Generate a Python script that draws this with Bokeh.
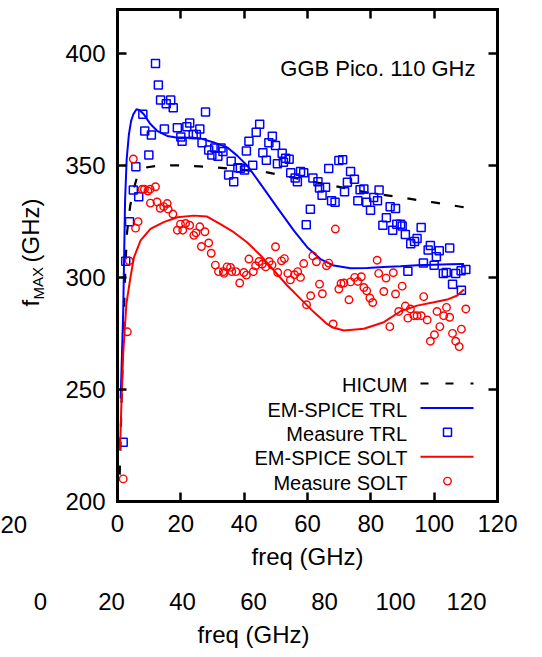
from bokeh.plotting import figure
from bokeh.models import Range1d, LinearAxis, Label, FixedTicker
from bokeh.embed import file_html
from bokeh.resources import INLINE

FONT = "Liberation Sans"
BLUE = "#0000ff"
RED = "#ff0000"

# ---------------- data ----------------
X_TICKS = [0, 20, 40, 60, 80, 100, 120]
Y_TICKS = [200, 250, 300, 350, 400]
X_LABEL = "freq (GHz)"
TITLE = "GGB Pico. 110 GHz"
SERIES_NAMES = ["HICUM", "EM-SPICE TRL", "Measure TRL", "EM-SPICE SOLT", "Measure SOLT"]

hicum_f = [0.7, 1.2, 1.8, 2.5, 3.0, 4.0, 5.0, 6.2, 7.5, 9.4, 12.0, 14.6, 18.0, 22.0, 26.0, 30.4,
           36.7, 42.0, 47.3, 52.0, 57.8, 63.0, 68.3, 73.6, 78.9, 84.0, 89.4, 94.6, 99.9, 105.0, 109.5]
hicum_v = [212, 240, 275, 305, 320, 332, 339, 345, 347.5, 349.3, 349.8, 350.0, 350.2, 350.0, 349.7, 349.3,
           348.5, 347.8, 347.0, 345.7, 344.0, 342.5, 341.0, 339.5, 338.0, 337.0, 335.9, 334.7, 333.6, 332.5, 331.4]

trl_f = [1.0, 1.4, 1.8, 2.1, 2.4, 2.9, 3.6, 4.3, 5.0, 6.0, 7.0, 8.3, 10.4, 12.5, 15.7, 19.9, 23.1, 26.2,
         30.4, 34.6, 37.8, 41.0, 45.2, 50.4, 55.7, 59.9, 64.1, 68.3, 73.6, 78.9, 84.0, 89.4, 94.6, 99.9,
         105.0, 109.4]
trl_v = [246, 265, 285, 310, 335, 353, 364, 370, 373, 375.2, 374.8, 373.0, 368.6, 365.6, 363.3, 362.3,
         362.6, 362.2, 360.4, 358.2, 354.5, 350.0, 341.8, 331.4, 321.0, 313.6, 308.3, 305.4, 304.2, 304.3,
         304.7, 305.1, 305.5, 305.8, 306.0, 306.1]

solt_f = [0.8, 1.2, 1.8, 2.8, 4.1, 5.2, 7.3, 10.4, 14.6, 18.9, 24.1, 28.3, 32.5, 36.7, 40.9, 45.2, 49.4,
          53.6, 57.8, 62.0, 66.0, 68.3, 71.5, 77.8, 84.1, 89.4, 94.6, 99.9, 104.1, 107.3, 109.4]
solt_v = [223, 242.2, 266.0, 288.2, 300.2, 309.1, 316.6, 321.8, 324.8, 327.0, 327.7, 327.3, 323.9, 320.3,
          315.8, 309.9, 303.2, 296.5, 290.5, 284.6, 279.5, 277.6, 276.4, 277.2, 280.1, 285.0, 287.5, 289.0,
          290.2, 292.0, 294.7]

meas_trl_f = [1.8, 2.6, 3.8, 5.0, 5.8, 6.7, 8.0, 8.6, 9.9, 10.7, 12.0, 12.9, 13.6, 14.8, 15.4, 16.8, 17.6,
              18.9, 20.0, 20.4, 21.9, 22.8, 23.9, 24.9, 26.0, 26.7, 27.8, 28.8, 29.8, 30.7, 31.7, 32.7, 33.3,
              35.1, 35.9, 36.7, 38.0, 38.8, 40.1, 40.7, 41.5, 42.7, 43.8, 44.9, 45.9, 47.0, 47.8, 48.9, 49.9,
              50.5, 52.0, 52.4, 53.1, 54.2, 54.7, 56.1, 56.8, 57.8, 58.8, 59.6, 60.9, 61.7, 63.3, 63.8, 64.6,
              65.7, 66.7, 67.6, 68.7, 69.9, 71.1, 71.7, 72.6, 73.6, 74.8, 75.9, 76.6, 77.8, 78.7, 79.9, 80.9,
              82.1, 82.6, 83.8, 84.9, 86.1, 86.9, 87.8, 88.2, 89.4, 89.9, 90.9, 91.7, 92.6, 93.8, 94.6, 95.9,
              96.6, 98.1, 98.8, 100.0, 100.7, 101.6, 102.9, 103.8, 104.9, 105.8, 106.8, 108.5, 108.6, 110.0]
meas_trl_v = [226.5, 307.3, 325.0, 339.1, 349.5, 336.1, 373.0, 365.5, 354.8, 363.7, 395.7, 386.0, 379.3,
              366.4, 377.7, 379.3, 375.9, 366.9, 362.8, 360.9, 367.4, 369.1, 363.9, 363.9, 366.4, 360.3,
              374.0, 357.0, 354.8, 357.9, 354.2, 357.9, 356.3, 345.9, 352.0, 342.8, 349.1, 348.9, 348.1,
              356.6, 360.9, 350.2, 364.9, 368.5, 355.8, 352.4, 360.2, 363.2, 359.0, 350.9, 355.6, 351.5,
              353.3, 352.9, 346.9, 344.5, 342.8, 347.4, 346.9, 323.6, 330.6, 344.5, 342.8, 340.0, 336.8,
              340.4, 348.7, 334.3, 333.7, 352.3, 352.7, 338.4, 342.6, 347.4, 344.0, 334.3, 339.3, 339.6,
              333.7, 330.1, 335.8, 334.3, 339.2, 323.4, 326.8, 331.7, 321.2, 330.9, 323.9, 323.9, 323.1,
              319.3, 302.9, 315.1, 316.1, 317.5, 322.4, 306.5, 312.3, 314.4, 305.5, 309.3, 312.0, 301.9,
              302.3, 313.2, 297.0, 301.9, 303.1, 294.4, 303.6]

meas_solt_f = [1.8, 3.1, 3.7, 5.0, 5.7, 6.5, 7.8, 8.5, 9.6, 10.3, 10.4, 12.0, 12.5, 13.5, 14.6, 15.7, 16.0,
               17.5, 18.9, 19.9, 20.6, 21.5, 22.8, 24.1, 24.8, 26.0, 26.5, 27.6, 28.8, 29.6, 30.9, 31.9,
               33.4, 33.6, 34.6, 35.7, 36.1, 37.4, 38.6, 39.9, 40.7, 41.5, 42.9, 43.6, 44.7, 45.7, 46.8,
               47.9, 48.8, 49.9, 50.6, 51.8, 52.7, 53.8, 54.6, 55.9, 56.9, 57.8, 58.8, 59.7, 61.0, 61.7,
               62.8, 63.8, 64.7, 66.0, 66.7, 68.1, 68.8, 69.9, 70.6, 71.5, 73.1, 73.6, 74.9, 75.9, 77.0,
               77.8, 78.7, 79.7, 80.6, 82.0, 82.5, 84.1, 84.8, 86.0, 87.1, 87.8, 88.8, 89.9, 90.9, 91.7,
               92.5, 93.6, 94.6, 95.9, 96.7, 97.8, 98.8, 100.1, 100.9, 101.8, 103.0, 103.9, 104.9, 105.8,
               106.8, 107.9, 108.6, 110.0]
meas_solt_v = [210.1, 275.8, 307.5, 353.0, 322.1, 325.0, 339.5, 339.5, 338.7, 339.5, 333.3, 340.6, 333.8,
               331.0, 331.7, 333.1, 330.6, 328.4, 321.2, 323.9, 321.2, 324.2, 323.4, 318.9, 320.0, 322.7,
               313.9, 320.5, 315.5, 310.9, 305.6, 302.7, 302.7, 301.9, 304.8, 304.6, 302.7, 302.7, 297.6,
               302.3, 301.1, 308.3, 302.7, 305.3, 307.2, 306.0, 304.8, 307.2, 305.7, 313.8, 302.3, 307.5,
               308.5, 301.9, 299.0, 301.3, 302.7, 300.1, 306.3, 287.9, 291.9, 309.7, 307.1, 297.1, 292.8,
               305.3, 306.5, 279.3, 321.7, 294.9, 297.4, 297.6, 290.1, 298.1, 300.1, 298.3, 300.4, 295.6,
               294.1, 290.9, 288.9, 307.8, 301.9, 293.8, 299.8, 278.1, 302.2, 292.7, 284.9, 296.2, 287.3,
               281.9, 286.0, 283.0, 283.0, 283.0, 291.5, 281.1, 271.6, 274.5, 284.9, 278.1, 283.0, 286.7,
               282.3, 275.1, 271.6, 269.2, 277.0, 286.0]

# ---------------- layout (canvas pixels) ----------------
CW, CH = 540, 655
X0, X1 = 0, 120
Y0, Y1 = 200, 420
BX0, BX1 = 117.0, 497.0      # plot box left/right
BYT, BYB = 8.5, 501.0        # plot box top/bottom
XS = (BX1 - BX0) / (X1 - X0)
YS = (BYB - BYT) / (Y1 - Y0)
SX0, SX1 = 40.0, 466.0       # lower (stray) axis: where 0 and 120 sit
SXS = (SX1 - SX0) / (X1 - X0)


def dx(px):
    return X0 + (px - BX0) / XS


def dy(py):
    return Y0 + (BYB - py) / YS


p = figure(width=CW, height=CH, x_range=Range1d(dx(0), dx(CW)), y_range=Range1d(dy(CH), dy(0)),
           output_backend="svg", toolbar_location=None, x_axis_location=None, y_axis_location=None,
           min_border=0, min_border_left=0, min_border_right=0, min_border_top=0, min_border_bottom=0)
p.extra_x_ranges = {"x2": Range1d(X0 + (0 - SX0) / SXS, X0 + (CW - SX0) / SXS)}
p.grid.visible = False
p.outline_line_color = None
p.background_fill_color = "white"
p.border_fill_color = "white"

common = dict(major_tick_in=9, major_tick_out=0, major_tick_line_width=2.5, major_tick_line_color="black",
              minor_tick_line_color=None, axis_line_width=3, axis_line_color="black",
              axis_line_cap="square", major_label_text_font=FONT, major_label_text_font_size="24px",
              major_label_text_color="black")

bottom = LinearAxis(fixed_location=Y0, bounds=(X0, X1), ticker=FixedTicker(ticks=X_TICKS),
                    major_label_standoff=13, axis_label=X_LABEL, axis_label_standoff=8,
                    axis_label_text_font=FONT, axis_label_text_font_size="24px",
                    axis_label_text_font_style="normal", axis_label_text_color="black", **common)
left = LinearAxis(fixed_location=X0, bounds=(Y0, Y1), ticker=FixedTicker(ticks=Y_TICKS),
                  major_label_standoff=12, **common)
top = LinearAxis(fixed_location=Y1, bounds=(X0, X1), ticker=FixedTicker(ticks=X_TICKS),
                 major_label_overrides={t: "" for t in X_TICKS}, **common)
right = LinearAxis(fixed_location=X1, bounds=(Y0, Y1), ticker=FixedTicker(ticks=Y_TICKS),
                   major_label_overrides={t: "" for t in Y_TICKS}, **common)
p.add_layout(bottom, "below")
p.add_layout(left, "left")
p.add_layout(top, "above")
p.add_layout(right, "right")

# stray second axis below (as in the reference picture)
stray = LinearAxis(x_range_name="x2", fixed_location=dy(579), bounds=(X0, X1),
                   ticker=FixedTicker(ticks=X_TICKS), axis_line_color=None, major_tick_line_color=None,
                   minor_tick_line_color=None, major_tick_in=0, major_tick_out=0,
                   major_label_standoff=13, major_label_text_font=FONT, major_label_text_font_size="24px",
                   major_label_text_color="black", axis_label=X_LABEL, axis_label_standoff=8,
                   axis_label_text_font=FONT, axis_label_text_font_size="24px",
                   axis_label_text_font_style="normal", axis_label_text_color="black")
p.add_layout(stray, "below")

# data series
p.line(hicum_f, hicum_v, line_color="black", line_width=2.2, line_dash="9 15")
p.line(trl_f, trl_v, line_color=BLUE, line_width=2)
p.scatter(meas_trl_f, meas_trl_v, marker="square", size=8, line_color=BLUE, line_width=1.5,
          fill_color=None)
p.line(solt_f, solt_v, line_color=RED, line_width=2)
p.scatter(meas_solt_f, meas_solt_v, marker="circle", size=7.5, line_color=RED, line_width=1.4,
          fill_color=None)

# title inside
p.add_layout(Label(x=dx(475), y=dy(68), text=TITLE, text_align="right", text_baseline="middle",
                   text_font=FONT, text_font_size="22px", text_color="black"))

# gnuplot-style legend (text left, key right)
leg_mid = [384.5, 409.0, 433.3, 457.8, 482.1]
for name, my in zip(SERIES_NAMES, leg_mid):
    p.add_layout(Label(x=dx(407), y=dy(my), text=name, text_align="right",
                       text_baseline="middle", text_font=FONT, text_font_size="20px",
                       text_color="black"))
kx = [dx(420), dx(473)]
p.line(kx, [dy(leg_mid[0] - 1.5)] * 2, line_color="black", line_width=2.2, line_dash="8 17")
p.line(kx, [dy(leg_mid[1] - 1.5)] * 2, line_color=BLUE, line_width=2)
p.scatter([dx(447)], [dy(leg_mid[2] - 1.5)], marker="square", size=8, line_color=BLUE,
          line_width=1.5, fill_color=None)
p.line(kx, [dy(leg_mid[3] - 1.5)] * 2, line_color=RED, line_width=2)
p.scatter([dx(447)], [dy(leg_mid[4] - 1.5)], marker="circle", size=7.5, line_color=RED,
          line_width=1.4, fill_color=None)

# y axis label: f_MAX (GHz), rotated (centre lines of the text)
p.add_layout(Label(x=dx(30), y=dy(306), text="f", angle=1.5708, text_align="left",
                   text_baseline="middle", text_font=FONT, text_font_size="24px",
                   text_color="black"))
p.add_layout(Label(x=dx(37.5), y=dy(299), text="MAX", angle=1.5708, text_align="left",
                   text_baseline="middle", text_font=FONT, text_font_size="15px",
                   text_color="black"))
p.add_layout(Label(x=dx(30), y=dy(262), text="(GHz)", angle=1.5708, text_align="left",
                   text_baseline="middle", text_font=FONT, text_font_size="24px",
                   text_color="black"))

# stray tick label at the far left
p.add_layout(Label(x=dx(0), y=dy(524), text="20", text_align="left", text_baseline="middle",
                   text_font=FONT, text_font_size="24px", text_color="black"))

open("out.html", "w").write(file_html(p, INLINE))
